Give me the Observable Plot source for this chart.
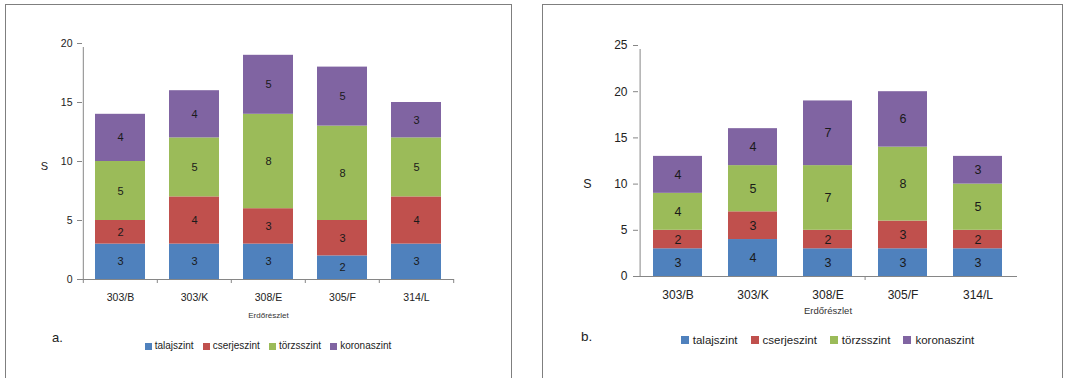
<!DOCTYPE html>
<html>
<head>
<meta charset="utf-8">
<script src="https://cdn.jsdelivr.net/npm/d3@7"></script>
<script src="https://cdn.jsdelivr.net/npm/@observablehq/plot@0.6"></script>
<style>
  body { margin: 0; background: #fff; }
  #root { position: relative; width: 1065px; height: 378px; overflow: hidden; background: #fff;
          font-family: "Liberation Sans", Arial, sans-serif; color: #222; }
  .frame { position: absolute; box-sizing: border-box; border: 1.5px solid #7f7f7f; z-index: 5; pointer-events: none; }
  .plotwrap { position: absolute; top: 0; }
  .legend { position: absolute; display: flex; justify-content: center; align-items: center; line-height: 12px; color: #222; }
  .legend .item { display: flex; align-items: center; }
  .legend .sw { display: inline-block; }
  .tag { position: absolute; color: #222; line-height: 1; }
</style>
</head>
<body>
<div id="root"></div>
<script>
// ---- data ----
const categories = ["303/B", "303/K", "308/E", "305/F", "314/L"];
const seriesNames = ["talajszint", "cserjeszint", "törzsszint", "koronaszint"];
const seriesColors = ["#4F81BD", "#C0504D", "#9BBB59", "#8064A2"];

// panel a.
const a_talajszint  = [3, 3, 3, 2, 3];
const a_cserjeszint = [2, 4, 3, 3, 4];
const a_torzsszint  = [5, 5, 8, 8, 5];
const a_koronaszint = [4, 4, 5, 5, 3];
const a_yTicks = [0, 5, 10, 15, 20];

// panel b.
const b_talajszint  = [3, 4, 3, 3, 3];
const b_cserjeszint = [2, 3, 2, 3, 2];
const b_torzsszint  = [4, 5, 7, 8, 5];
const b_koronaszint = [4, 4, 7, 6, 3];
const b_yTicks = [0, 5, 10, 15, 20, 25];

const xTitle = "Erdőrészlet";
const yTitle = "S";
const panelTags = ["a.", "b."];

function rowsOf(seriesArrays) {
  const rows = [];
  seriesArrays.forEach((vals, si) => {
    vals.forEach((v, ci) => rows.push({cat: categories[ci], series: seriesNames[si], value: v}));
  });
  return rows;
}

const root = document.getElementById("root");
const axisColor = "#868686";
const FONT = '"Liberation Sans", Arial, sans-serif';

function makePanel(cfg) {
  const rows = rowsOf(cfg.series);
  const plotW = cfg.width - cfg.mL - cfg.mR;
  const step = plotW / categories.length;
  const pad = (step - cfg.barW) / step;
  const ymax = cfg.yTicks[cfg.yTicks.length - 1];

  const marks = [
    Plot.barY(rows, {x: "cat", y: "value", fill: "series"}),
    Plot.text(rows, Plot.stackY({x: "cat", y: "value", z: "series", text: d => String(d.value),
      fontSize: cfg.barFont, fill: "#1a1a1a"})),
    Plot.ruleY([0], {stroke: axisColor, strokeWidth: 1}),
    Plot.ruleX([categories[0]], {x: d => d, dx: -step / 2, y1: 0, y2: ymax, insetBottom: -4, stroke: axisColor}),
    Plot.ruleX(cfg.tickCats, {x: d => d, dx: -step / 2, y1: 0, y2: 0, insetBottom: -4, stroke: axisColor}),
    Plot.axisY({ticks: cfg.yTicks, tickSize: 5, tickPadding: cfg.yPad, label: null,
      fontSize: cfg.tickFont, stroke: axisColor, fill: "#222"}),
    Plot.axisX({tickSize: 0, tickPadding: cfg.xPad, label: null, fontSize: cfg.xFont, fill: "#222"}),
    Plot.text([xTitle], {text: d => d, frameAnchor: "bottom", dy: cfg.xTitleDy, fontSize: cfg.xTitleFont, fill: "#333"}),
    Plot.text([yTitle], {text: d => d, frameAnchor: "left", textAnchor: "middle", dx: cfg.yTitleDx, dy: cfg.yTitleDy,
      fontSize: cfg.yTitleFont, fill: "#222"})
  ];
  if (cfg.lastTick) {
    marks.push(Plot.ruleX([categories[categories.length - 1]], {x: d => d, dx: step / 2, y1: 0, y2: 0, insetBottom: -4, stroke: axisColor}));
  }

  const svg = Plot.plot({
    width: cfg.width,
    height: 378,
    marginLeft: cfg.mL,
    marginRight: cfg.mR,
    marginTop: cfg.mT,
    marginBottom: cfg.mB,
    style: {fontFamily: FONT, fontSize: cfg.tickFont + "px", color: "#222", background: "none"},
    x: {domain: categories, paddingInner: pad, paddingOuter: pad / 2, axis: null},
    y: {domain: [0, ymax], axis: null},
    color: {domain: seriesNames, range: seriesColors},
    marks
  });

  const wrap = document.createElement("div");
  wrap.className = "plotwrap";
  wrap.style.left = cfg.left + "px";
  wrap.appendChild(svg);
  root.appendChild(wrap);

  // legend
  const leg = document.createElement("div");
  leg.className = "legend";
  leg.style.left = (cfg.left + cfg.mL) + "px";
  leg.style.width = plotW + "px";
  leg.style.top = (cfg.legendY - 6) + "px";
  leg.style.fontSize = cfg.legendFont + "px";
  leg.style.gap = cfg.legendGap + "px";
  seriesNames.forEach((name, i) => {
    const item = document.createElement("span");
    item.className = "item";
    const sw = document.createElement("span");
    sw.className = "sw";
    sw.style.width = cfg.sw + "px";
    sw.style.height = cfg.sw + "px";
    sw.style.marginRight = cfg.swGap + "px";
    sw.style.background = seriesColors[i];
    item.appendChild(sw);
    item.appendChild(document.createTextNode(name));
    leg.appendChild(item);
  });
  root.appendChild(leg);

  // panel tag
  const tag = document.createElement("div");
  tag.className = "tag";
  tag.style.left = cfg.tagX + "px";
  tag.style.top = cfg.tagY + "px";
  tag.style.fontSize = cfg.tagFont + "px";
  tag.textContent = cfg.tag;
  root.appendChild(tag);

  // frame
  const fr = document.createElement("div");
  fr.className = "frame";
  fr.style.left = cfg.frame[0] + "px";
  fr.style.top = cfg.frame[1] + "px";
  fr.style.width = cfg.frame[2] + "px";
  fr.style.height = cfg.frame[3] + "px";
  root.appendChild(fr);
}

makePanel({
  series: [a_talajszint, a_cserjeszint, a_torzsszint, a_koronaszint],
  yTicks: a_yTicks,
  left: 0, width: 540, mL: 82, mR: 86, mT: 43, mB: 99, barW: 50,
  tickCats: categories, lastTick: true,
  tickFont: 10.5, xFont: 10.5, barFont: 11, yPad: 5, xPad: 14,
  xTitleFont: 8, xTitleDy: 38, yTitleFont: 11, yTitleDx: -38, yTitleDy: 5,
  legendY: 346, legendFont: 10, legendGap: 9, sw: 7, swGap: 3,
  tag: panelTags[0], tagX: 52, tagY: 331, tagFont: 13,
  frame: [5, 4, 507, 420]
});

makePanel({
  series: [b_talajszint, b_cserjeszint, b_torzsszint, b_koronaszint],
  yTicks: b_yTicks,
  left: 540, width: 525, mL: 98, mR: 48, mT: 45, mB: 102, barW: 50,
  tickCats: [categories[3]], lastTick: false,
  tickFont: 12, xFont: 12, barFont: 12.5, yPad: 6, xPad: 14,
  xTitleFont: 9.5, xTitleDy: 37, yTitleFont: 12.5, yTitleDx: -51, yTitleDy: 23,
  legendY: 340, legendFont: 11.5, legendGap: 13, sw: 8, swGap: 4,
  tag: panelTags[1], tagX: 581, tagY: 330, tagFont: 13.5,
  frame: [542, 4, 521, 420]
});
</script>
</body>
</html>
